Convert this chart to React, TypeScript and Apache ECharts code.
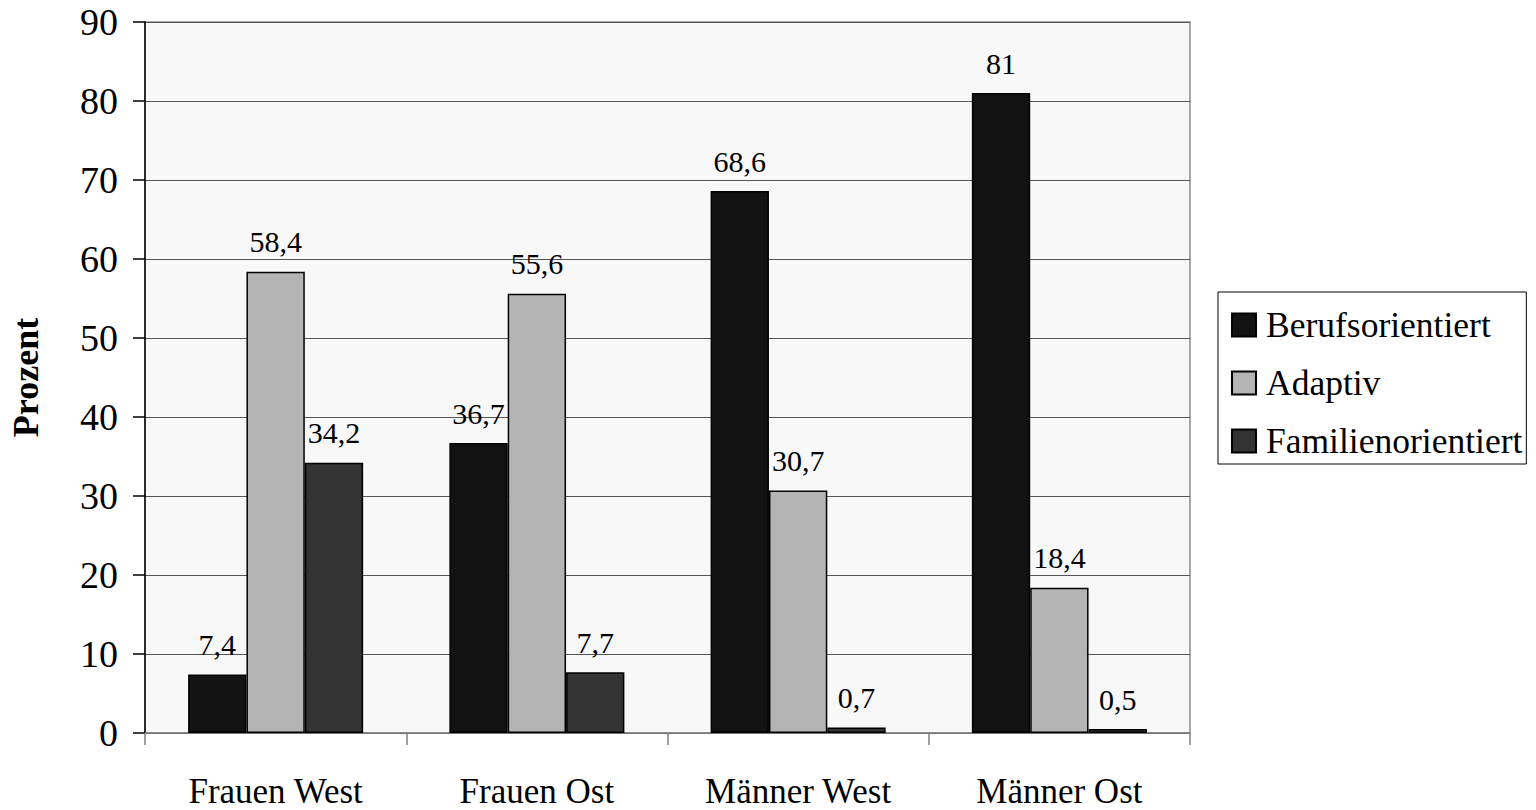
import React, { useEffect, useRef } from "react";
import * as echarts from "echarts";

const categories = ["Frauen West", "Frauen Ost", "Männer West", "Männer Ost"];
const seriesNames = ["Berufsorientiert", "Adaptiv", "Familienorientiert"];
const berufsorientiert = [7.4, 36.7, 68.6, 81];
const adaptiv = [58.4, 55.6, 30.7, 18.4];
const familienorientiert = [34.2, 7.7, 0.7, 0.5];
const yTicks = [0, 10, 20, 30, 40, 50, 60, 70, 80, 90];

const colors = ["#121212", "#b4b4b4", "#333333"];
const FONT = "Liberation Serif";

export default function App() {
  const ref = useRef<HTMLDivElement>(null);
  useEffect(() => {
    if (!ref.current) return;
    const chart = echarts.init(ref.current, undefined, { renderer: "svg" });
    const data = [berufsorientiert, adaptiv, familienorientiert];
    chart.setOption({
      animation: false,
      textStyle: { fontFamily: FONT },
      grid: {
        left: 145,
        right: 346,
        top: 22,
        bottom: 77,
        show: true,
        backgroundColor: "#f8f8f8",
        borderColor: "#8a8a8a",
        borderWidth: 1.5,
      },
      legend: {
        orient: "vertical",
        left: 1218,
        top: 292,
        data: seriesNames,
        icon: "rect",
        itemWidth: 24,
        itemHeight: 23,
        itemGap: 22,
        borderColor: "#000",
        borderWidth: 1,
        padding: [15, 4, 5, 13],
        backgroundColor: "#fff",
        textStyle: {
          fontFamily: FONT,
          fontSize: 35.5,
          lineHeight: 36,
          color: "#000",
          padding: [0, 0, 0, 5],
        },
      },
      xAxis: {
        type: "category",
        data: categories,
        axisLine: { lineStyle: { color: "#808080", width: 1.5 } },
        axisTick: { show: true, length: 12, lineStyle: { color: "#808080", width: 1.5 } },
        axisLabel: { fontFamily: FONT, fontSize: 35, lineHeight: 35, color: "#000", margin: 41 },
      },
      yAxis: {
        type: "value",
        min: 0,
        max: 90,
        interval: 10,
        name: "Prozent",
        nameLocation: "middle",
        nameGap: 101,
        nameRotate: 90,
        nameTextStyle: { fontFamily: FONT, fontSize: 36, fontWeight: "bold", color: "#000" },
        axisLine: { show: true, lineStyle: { color: "#000", width: 1.5 } },
        axisTick: { show: true, length: 12, lineStyle: { color: "#000", width: 1.5 } },
        axisLabel: {
          fontFamily: FONT,
          fontSize: 38,
          color: "#000",
          margin: 27,
          formatter: (v: number) => (yTicks.includes(v) ? String(v) : ""),
        },
        splitLine: { show: true, lineStyle: { color: "#555", width: 1.2 } },
      },
      series: seriesNames.map((name, i) => ({
        name,
        type: "bar",
        data: data[i],
        barGap: "0%",
        barCategoryGap: "33%",
        itemStyle: { color: colors[i], borderColor: "#000", borderWidth: 1.5 },
        label: {
          show: true,
          position: "top",
          distance: 15,
          fontFamily: FONT,
          fontSize: 30,
          color: "#000",
          formatter: (p: any) => String(p.value).replace(".", ","),
        },
      })),
    });
    return () => chart.dispose();
  }, []);
  return (
    <div
      ref={ref}
      style={{ position: "fixed", left: 0, top: 0, width: 1536, height: 810, background: "#fff" }}
    />
  );
}
